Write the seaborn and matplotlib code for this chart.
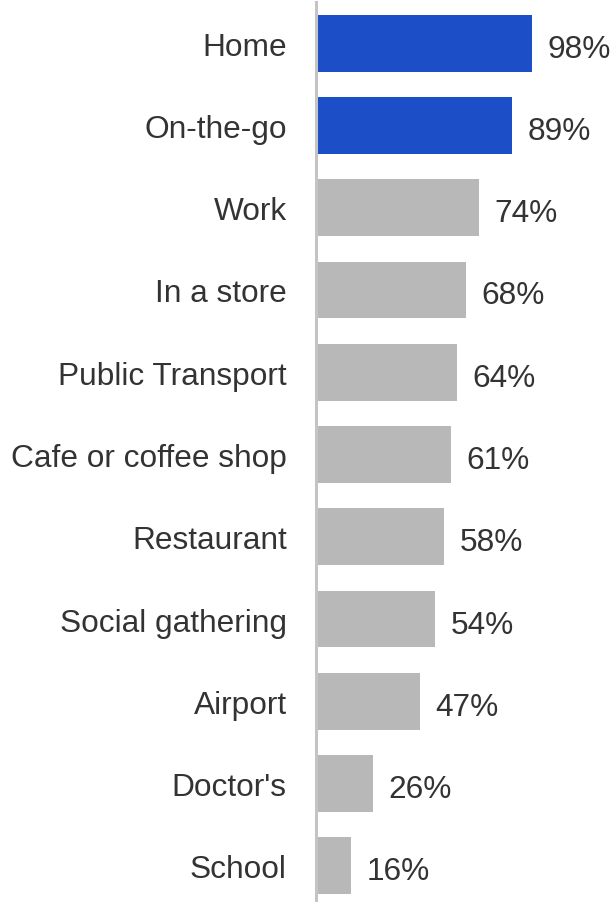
import matplotlib
matplotlib.use("Agg")
import matplotlib.pyplot as plt
import seaborn as sns
import pandas as pd

locations = ["Home", "On-the-go", "Work", "In a store", "Public Transport",
             "Cafe or coffee shop", "Restaurant", "Social gathering",
             "Airport", "Doctor's", "School"]
shares = [98, 89, 74, 68, 64, 61, 58, 54, 47, 26, 16]
highlighted = ["Home", "On-the-go"]

BLUE = "#1c4ec8"
GREY = "#b8b8b8"
TEXT = "#333333"

df = pd.DataFrame({"location": locations, "share": shares})
palette = {loc: (BLUE if loc in highlighted else GREY) for loc in locations}

sns.set_style("white")
plt.rcParams["font.family"] = ["Liberation Sans", "DejaVu Sans"]

fig = plt.figure(figsize=(6.13, 9.03), dpi=100)
ax = fig.add_axes([316 / 613, 0, 1 - 316 / 613, 1 - 3 / 903])

sns.barplot(data=df, x="share", y="location", hue="location", palette=palette,
            order=locations, width=0.69, legend=False, ax=ax, saturation=1)

for patch, val in zip(ax.patches, shares):
    patch.set_edgecolor("none")
    ax.annotate(f"{val}%", xy=(val, patch.get_y() + patch.get_height() / 2),
                xytext=(11, -4), textcoords="offset points",
                va="center", ha="left", fontsize=22.8, color=TEXT)

ax.set_xlim(0, 134.6)
ax.set_ylim(10.44, -0.5)
ax.set_xlabel("")
ax.set_ylabel("")
ax.set_xticks([])
ax.tick_params(axis="y", length=0, pad=21, labelsize=22.8, labelcolor=TEXT)

for side in ["top", "right", "bottom"]:
    ax.spines[side].set_visible(False)
ax.spines["left"].set_color("#c4c4c4")
ax.spines["left"].set_linewidth(2.2)

fig.savefig("out.png", dpi=100, facecolor="white")
